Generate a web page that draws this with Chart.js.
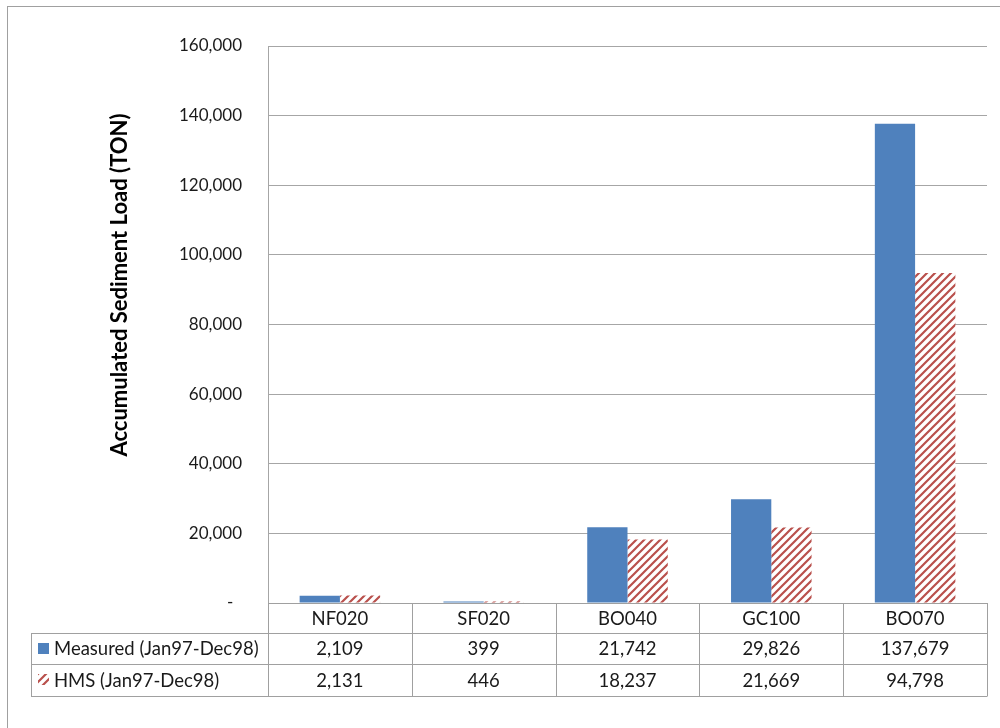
<!DOCTYPE html>
<html>
<head>
<meta charset="utf-8">
<script src="https://cdn.jsdelivr.net/npm/chart.js@4.4.1/dist/chart.umd.min.js"></script>
<style>
html,body{margin:0;padding:0;background:#fff;}
#wrap{position:relative;width:1000px;height:728px;}
canvas{display:block;}
</style>
</head>
<body>
<div id="wrap"><canvas id="c" width="1000" height="728"></canvas></div>
<script>
const categories = ['NF020', 'SF020', 'BO040', 'GC100', 'BO070'];
const measured = [2109, 399, 21742, 29826, 137679];
const hms = [2131, 446, 18237, 21669, 94798];
const seriesNames = ['Measured (Jan97-Dec98)', 'HMS (Jan97-Dec98)'];
const yTitle = 'Accumulated Sediment Load (TON)';
const yMin = 0, yMax = 160000, yStep = 20000;

const BLUE = '#4F81BD';
const GRID = '#A6A6A6';
const FONT = 'Lato, "Open Sans", sans-serif';

function makeHatch(ctx) {
  const c = document.createElement('canvas');
  c.width = 8; c.height = 8;
  const x = c.getContext('2d');
  x.fillStyle = '#fff';
  x.fillRect(0, 0, 8, 8);
  x.strokeStyle = '#B9504C';
  x.lineWidth = 2.2;
  x.beginPath();
  x.moveTo(-2, 10); x.lineTo(10, -2);
  x.moveTo(-2, 2); x.lineTo(2, -2);
  x.moveTo(6, 10); x.lineTo(10, 6);
  x.stroke();
  return ctx.createPattern(c, 'repeat');
}

const fmt = v => v.toLocaleString('en-US');

const canvas = document.getElementById('c');
const ctx = canvas.getContext('2d');
const hatch = makeHatch(ctx);

const tablePlugin = {
  id: 'dataTable',
  beforeDraw(chart) {
    const c = chart.ctx;
    c.save();
    c.fillStyle = '#fff';
    c.fillRect(0, 0, chart.width, chart.height);
    c.strokeStyle = '#A0A0A0';
    c.lineWidth = 1;
    c.strokeRect(7.5, 6.5, 1200, 1200);
    c.restore();
  },
  afterDraw(chart) {
    const c = chart.ctx;
    const area = chart.chartArea;
    const xs = chart.scales.x;
    const L = area.left, R = area.right, T = area.bottom;
    const rowH = [30, 31, 32];
    const y0 = T, y1 = y0 + rowH[0], y2 = y1 + rowH[1], y3 = y2 + rowH[2];
    const tableLeft = 31;
    const n = categories.length;
    const w = (R - L) / n;
    c.save();
    c.strokeStyle = '#A0A0A0';
    c.lineWidth = 1;
    c.beginPath();
    const h = (y) => Math.round(y) + 0.5;
    c.moveTo(L, h(y0)); c.lineTo(R, h(y0));
    [y1, y2, y3].forEach(y => { c.moveTo(tableLeft, h(y)); c.lineTo(R, h(y)); });
    for (let i = 0; i <= n; i++) {
      const x = h(L + i * w);
      c.moveTo(x, y0); c.lineTo(x, h(y3));
    }
    c.moveTo(h(tableLeft), h(y1)); c.lineTo(h(tableLeft), h(y3));
    c.stroke();

    c.fillStyle = '#1a1a1a';
    c.font = '18.5px ' + FONT;
    c.textAlign = 'center';
    c.textBaseline = 'middle';
    categories.forEach((cat, i) => {
      const cx = xs.getPixelForValue(i);
      c.fillText(cat, cx, (y0 + y1) / 2 + 1);
      c.fillText(fmt(measured[i]), cx, (y1 + y2) / 2 + 1);
      c.fillText(fmt(hms[i]), cx, (y2 + y3) / 2 + 1);
    });
    c.textAlign = 'left';
    c.fillText(seriesNames[0], 54, (y1 + y2) / 2 + 1);
    c.fillText(seriesNames[1], 54, (y2 + y3) / 2 + 1);
    c.fillStyle = BLUE;
    c.fillRect(38, 643, 11, 11);
    c.fillStyle = hatch;
    c.fillRect(38, 674, 11, 11);

    c.save();
    c.translate(127, 285);
    c.rotate(-Math.PI / 2);
    c.fillStyle = '#000';
    c.font = 'bold 22px ' + FONT;
    c.textAlign = 'center';
    c.textBaseline = 'alphabetic';
    c.fillText(yTitle, 0, 0);
    c.restore();
    c.restore();
  }
};

new Chart(canvas, {
  type: 'bar',
  data: {
    labels: categories,
    datasets: [
      { label: seriesNames[0], data: measured, backgroundColor: BLUE, borderWidth: 0 },
      { label: seriesNames[1], data: hms, backgroundColor: hatch, borderWidth: 0 }
    ]
  },
  options: {
    responsive: false,
    animation: false,
    devicePixelRatio: 1,
    layout: { padding: { left: 0, top: 46, right: 13, bottom: 125 } },
    plugins: { legend: { display: false }, tooltip: { enabled: false } },
    datasets: { bar: { categoryPercentage: 0.56, barPercentage: 1.0 } },
    scales: {
      x: {
        display: false,
        grid: { display: false }
      },
      y: {
        min: yMin, max: yMax,
        afterFit(scale) { scale.width = 268; },
        border: { display: true, color: GRID, width: 1 },
        grid: { color: GRID, drawTicks: false, lineWidth: 1 },
        ticks: {
          stepSize: yStep,
          padding: 26,
          color: '#1a1a1a',
          font: { family: FONT, size: 17 },
          callback: (v) => v === 0 ? '-  ' : fmt(v)
        }
      }
    }
  },
  plugins: [tablePlugin]
});
</script>
</body>
</html>
